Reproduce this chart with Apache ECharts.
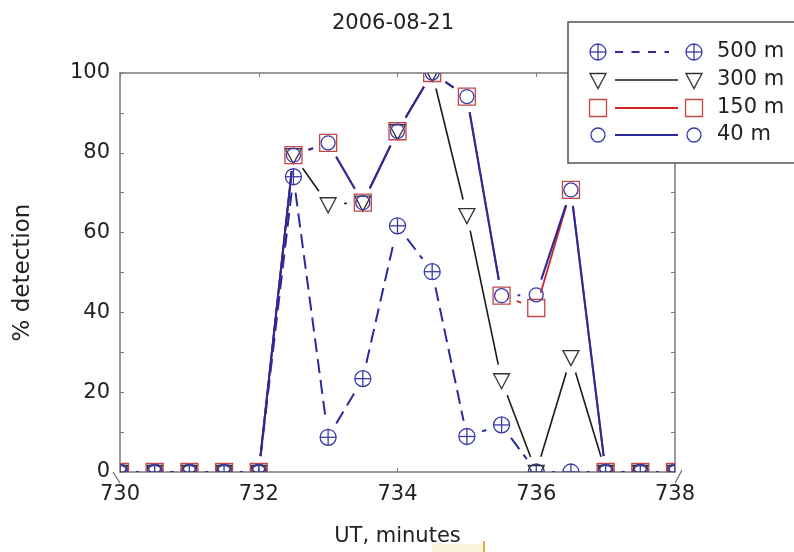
<!DOCTYPE html>
<html><head><meta charset="utf-8">
<script src="https://cdn.jsdelivr.net/npm/echarts@6/dist/echarts.min.js"></script>
<style>html,body{margin:0;padding:0;background:#fff;}#c{width:794px;height:552px;}</style>
</head><body><div id="c"></div>
<script>
// ---- data ----
const minutes = [730, 730.5, 731, 731.5, 732, 732.5, 733, 733.5, 734, 734.5, 735, 735.5, 736, 736.5, 737, 737.5, 738];
const det500 = [0, 0, 0, 0, 0, 74.0, 8.7, 23.4, 61.7, 50.2, 8.9, 11.8, 0, 0, 0, 0, 0];
const det300 = [0, 0, 0, 0, 0, 79.4, 67.1, 67.5, 85.4, 100, 64.4, 23.0, 0, 28.8, 0, 0, 0];
const det150 = [0, 0, 0, 0, 0, 79.4, 82.5, 67.5, 85.4, 100, 94.1, 44.2, 41.1, 70.7, 0, 0, 0];
const det40  = [0, 0, 0, 0, 0, 79.4, 82.5, 67.5, 85.4, 100, 94.1, 44.2, 44.4, 70.7, 0, 0, 0];
const seriesNames = ['500 m', '300 m', '150 m', '40 m'];
const xTickValues = [730, 732, 734, 736, 738];
const yTickValues = [0, 20, 40, 60, 80, 100];
const titleText = '2006-08-21';
const xTitle = 'UT, minutes';
const yTitle = '% detection';

// ---- styles ----
const FONT = 'DejaVu Sans, Liberation Sans, Arial, sans-serif';
const TXT = '#222';
const AX = '#7a7a7a';
const GAP = 16;
const styles = [
  {name: seriesNames[0], data: det500, marker: 'crossCircle', mColor: '#3a3aa8', lColor: '#2a2a9c', lWidth: 2.0, dash: [14, 7]},
  {name: seriesNames[1], data: det300, marker: 'triangle', mColor: '#333333', lColor: '#1a1a1a', lWidth: 1.6, dash: null},
  {name: seriesNames[2], data: det150, marker: 'square', mColor: '#c04848', lColor: '#d02424', lWidth: 1.8, dash: null},
  {name: seriesNames[3], data: det40, marker: 'circle', mColor: '#3a3aa8', lColor: '#2a2a9c', lWidth: 2.1, dash: null}
];

function markerEl(kind, cx, cy, color, z) {
  const st = {stroke: color, fill: 'none', lineWidth: 1.3};
  if (kind === 'crossCircle') return {type: 'group', children: [
    {type: 'circle', z: z, shape: {cx: cx, cy: cy, r: 8}, style: st},
    {type: 'line', z: z, shape: {x1: cx - 8, y1: cy, x2: cx + 8, y2: cy}, style: st},
    {type: 'line', z: z, shape: {x1: cx, y1: cy - 8, x2: cx, y2: cy + 8}, style: st}
  ]};
  if (kind === 'triangle') return {type: 'polygon', z: z, shape: {points: [[cx - 8, cy - 6.5], [cx + 8, cy - 6.5], [cx, cy + 8.5]]}, style: st};
  if (kind === 'square') return {type: 'rect', z: z, shape: {x: cx - 8.5, y: cy - 8.5, width: 17, height: 17}, style: st};
  return {type: 'circle', z: z, shape: {cx: cx, cy: cy, r: 7}, style: st};
}

function segData(vals) {
  const out = [];
  for (let i = 0; i < minutes.length - 1; i++) out.push([minutes[i], vals[i], minutes[i + 1], vals[i + 1]]);
  return out;
}
function pointData(vals) { return minutes.map((m, i) => [m, vals[i]]); }

const series = [];
styles.forEach((s) => {
  series.push({
    type: 'custom', name: s.name, clip: true, z: 2,
    dimensions: ['x1', 'y1', 'x2', 'y2'],
    encode: {x: [0, 2], y: [1, 3]},
    data: segData(s.data),
    renderItem: function (params, api) {
      const p1 = api.coord([api.value(0), api.value(1)]);
      const p2 = api.coord([api.value(2), api.value(3)]);
      const dx = p2[0] - p1[0], dy = p2[1] - p1[1];
      const L = Math.hypot(dx, dy);
      if (L <= 2 * GAP) return null;
      const ux = dx / L, uy = dy / L;
      return {type: 'line',
        shape: {x1: p1[0] + ux * GAP, y1: p1[1] + uy * GAP, x2: p2[0] - ux * GAP, y2: p2[1] - uy * GAP},
        style: {stroke: s.lColor, lineWidth: s.lWidth, lineDash: s.dash || null, fill: 'none'}};
    }
  });
});
styles.forEach((s) => {
  series.push({
    type: 'custom', name: s.name, clip: true, z: 3,
    dimensions: ['x', 'y'],
    encode: {x: 0, y: 1},
    data: pointData(s.data),
    renderItem: function (params, api) {
      const p = api.coord([api.value(0), api.value(1)]);
      return markerEl(s.marker, p[0], p[1], s.mColor);
    }
  });
});

// ---- legend (drawn as graphic) ----
const legX = 568, legY = 22;
const rowsY = [52, 80, 108, 135];
const legendEls = [{type: 'rect', z: 100, shape: {x: legX, y: legY, width: 250, height: 141},
  style: {fill: '#fff', stroke: '#555', lineWidth: 1.5}}];
styles.forEach((s, i) => {
  const y = rowsY[i];
  legendEls.push(Object.assign(markerEl(s.marker, 598, y, s.mColor, 101), {z: 101}));
  legendEls.push({type: 'line', z: 101, shape: {x1: 615, y1: y, x2: s.dash ? 669 : 678, y2: y},
    style: {stroke: s.lColor, lineWidth: s.lWidth, lineDash: s.dash ? [8, 8.5] : null}});
  legendEls.push(Object.assign(markerEl(s.marker, 694, y, s.mColor, 101), {z: 101}));
  legendEls.push({type: 'text', z: 101, x: 717, y: y, style: {text: s.name, fill: TXT, font: '21px ' + FONT, textVerticalAlign: 'middle', verticalAlign: 'middle'}});
});
// small scan artifacts at the plot corners and below
legendEls.push({type: 'line', z: 50, shape: {x1: 113, y1: 472, x2: 120, y2: 483}, style: {stroke: '#666', lineWidth: 1.2}});
legendEls.push({type: 'line', z: 50, shape: {x1: 682, y1: 470, x2: 675, y2: 483}, style: {stroke: '#666', lineWidth: 1.2}});
legendEls.push({type: 'rect', z: 1, shape: {x: 432, y: 544, width: 52, height: 8}, style: {fill: '#fcf5dc'}});
legendEls.push({type: 'line', z: 1, shape: {x1: 484, y1: 541, x2: 484, y2: 552}, style: {stroke: '#eba73a', lineWidth: 2}});

const axLine = {show: true, onZero: false, lineStyle: {color: AX, width: 1.5}};
const tick = {show: true, inside: true, length: 4, lineStyle: {color: AX, width: 1}};
const lbl = {fontSize: 21, color: TXT, fontFamily: FONT};

const option = {
  animation: false,
  backgroundColor: '#fff',
  textStyle: {fontFamily: FONT},
  title: {text: titleText, left: 388, top: 8, textAlign: 'center',
    textStyle: {fontSize: 21, fontWeight: 'normal', color: TXT, fontFamily: FONT}},
  grid: {left: 120, right: 119, top: 73, bottom: 78, containLabel: false},
  xAxis: [
    {type: 'value', min: xTickValues[0], max: xTickValues[xTickValues.length - 1], interval: xTickValues[1] - xTickValues[0],
      position: 'bottom', axisLine: axLine, axisTick: tick, splitLine: {show: false},
      axisLabel: Object.assign({margin: 12}, lbl),
      name: xTitle, nameLocation: 'middle', nameGap: 54, nameTextStyle: {fontSize: 21, color: TXT, fontFamily: FONT}},
    {type: 'value', min: xTickValues[0], max: xTickValues[xTickValues.length - 1], interval: xTickValues[1] - xTickValues[0],
      position: 'top', axisLine: axLine, axisTick: tick, splitLine: {show: false}, axisLabel: {show: false}}
  ],
  yAxis: [
    {type: 'value', min: yTickValues[0], max: yTickValues[yTickValues.length - 1], interval: yTickValues[1] - yTickValues[0],
      position: 'left', axisLine: axLine, axisTick: tick,
      minorTick: {show: true, splitNumber: 2, length: 4, lineStyle: {color: AX}},
      splitLine: {show: false}, axisLabel: Object.assign({margin: 10}, lbl),
      name: yTitle, nameLocation: 'middle', nameGap: 85, nameRotate: 90,
      nameTextStyle: {fontSize: 23, color: TXT, fontFamily: FONT}},
    {type: 'value', min: yTickValues[0], max: yTickValues[yTickValues.length - 1], interval: yTickValues[1] - yTickValues[0],
      position: 'right', axisLine: axLine, axisTick: tick,
      minorTick: {show: true, splitNumber: 2, length: 4, lineStyle: {color: AX}},
      splitLine: {show: false}, axisLabel: {show: false}}
  ],
  legend: {show: false, data: seriesNames},
  graphic: {elements: legendEls},
  series: series
};
const chart = echarts.init(document.getElementById('c'), null, {renderer: 'canvas'});
chart.setOption(option);
</script></body></html>
